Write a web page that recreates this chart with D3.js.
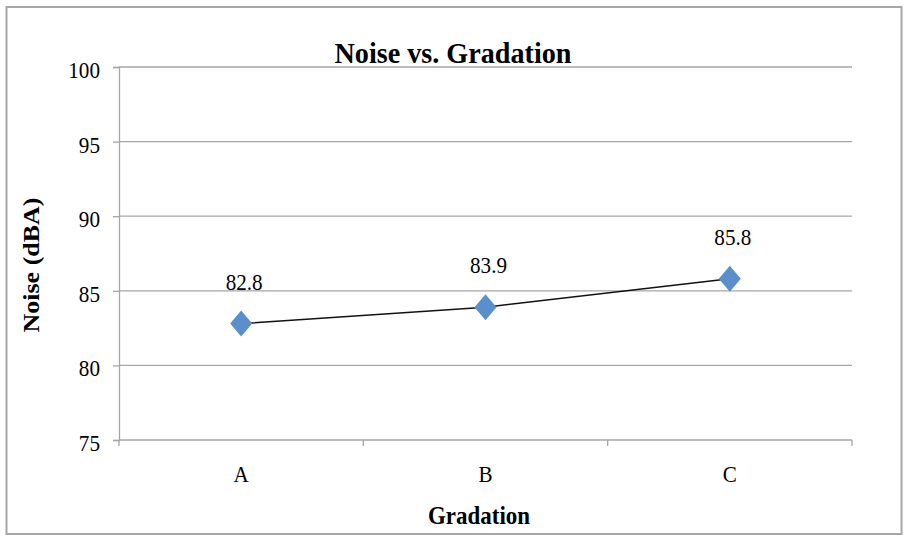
<!DOCTYPE html>
<html>
<head>
<meta charset="utf-8">
<script src="https://cdn.jsdelivr.net/npm/d3@7"></script>
<style>
  html, body { margin: 0; padding: 0; background: #fff; }
</style>
</head>
<body>
<svg id="chart" width="904" height="540"></svg>
<script>
// Chart data
const categories = ["A", "B", "C"];
const noise = [82.8, 83.9, 85.8];
const yTicks = [75, 80, 85, 90, 95, 100];

const FONT = "Liberation Serif";
const svg = d3.select("#chart").style("font-family", FONT);
const W = 904, H = 540;
const margin = { left: 119, right: 52, top: 67, bottom: 100 };
const plotW = W - margin.left - margin.right;
const plotH = H - margin.top - margin.bottom;

// Text is set slightly condensed, like a narrow Times face
const SX = 0.9;
function label(parent, px, py, str, size, opts = {}) {
  const sx = opts.sx || SX;
  const rot = opts.rotate ? ` rotate(${opts.rotate})` : "";
  return parent.append("text")
    .attr("transform", `translate(${px},${py}) scale(${sx},1)${rot}`)
    .attr("text-anchor", opts.anchor || "middle")
    .style("font-family", FONT)
    .style("font-size", size + "px")
    .style("font-weight", opts.bold ? "bold" : "normal")
    .attr("fill", "#000")
    .text(str);
}

// Outer frame
svg.append("rect")
  .attr("x", 6.5).attr("y", 7).attr("width", 895).attr("height", 527)
  .attr("fill", "#fff").attr("stroke", "#a6a6a6").attr("stroke-width", 2);

const g = svg.append("g").attr("transform", `translate(${margin.left},${margin.top})`);

const x = d3.scaleBand().domain(categories).range([0, plotW]).padding(0);
const y = d3.scaleLinear().domain([75, 100]).range([plotH, 0]);

const gridColor = "#a6a6a6";

// Horizontal gridlines
g.append("g")
  .selectAll("line")
  .data(yTicks.filter(t => t > 75))
  .join("line")
  .attr("x1", 0).attr("x2", plotW)
  .attr("y1", d => y(d)).attr("y2", d => y(d))
  .attr("stroke", gridColor).attr("stroke-width", 1.3);

// Y axis: line and ticks from d3.axisLeft, labels set separately
const yAxis = g.append("g")
  .call(d3.axisLeft(y).tickValues(yTicks).tickSize(6).tickFormat(""));
yAxis.select(".domain").attr("stroke", gridColor).attr("stroke-width", 1.3);
yAxis.selectAll(".tick line").attr("stroke", gridColor).attr("stroke-width", 1.3);
yTicks.forEach(t => label(g, -19, y(t) + 11, d3.format("d")(t), 23.5, { anchor: "end" }));

// X axis with boundary ticks between categories
const xAxisG = g.append("g").attr("transform", `translate(0,${plotH})`);
xAxisG.append("line")
  .attr("x1", 0).attr("x2", plotW).attr("y1", 0).attr("y2", 0)
  .attr("stroke", gridColor).attr("stroke-width", 1.3);
const boundaries = categories.map(c => x(c)).concat([plotW]);
xAxisG.selectAll("line.bt")
  .data(boundaries)
  .join("line").attr("class", "bt")
  .attr("x1", d => d).attr("x2", d => d).attr("y1", 0).attr("y2", 6)
  .attr("stroke", gridColor).attr("stroke-width", 1.3);
categories.forEach(c => label(xAxisG, x(c) + x.bandwidth() / 2, 42, c, 24, { sx: 0.88 }));

// Series line
const pts = categories.map((c, i) => ({ c, v: noise[i] }));
const cx = d => x(d.c) + x.bandwidth() / 2;
const line = d3.line().x(cx).y(d => y(d.v));
g.append("path")
  .datum(pts)
  .attr("d", line)
  .attr("fill", "none")
  .attr("stroke", "#111")
  .attr("stroke-width", 1.5);

// Diamond markers
const hw = 11, hh = 13;
g.selectAll("path.marker")
  .data(pts)
  .join("path").attr("class", "marker")
  .attr("transform", d => `translate(${cx(d)},${y(d.v)})`)
  .attr("d", `M0,${-hh}L${hw},0L0,${hh}L${-hw},0Z`)
  .attr("fill", "#5a8fcb");

// Data labels
pts.forEach(d => label(g, cx(d) + 3, y(d.v) - 34, d.v.toFixed(1), 23, { sx: 0.92 }));

// Title
svg.append("text")
  .attr("x", 453).attr("y", 63)
  .attr("text-anchor", "middle")
  .style("font-family", FONT).style("font-size", "30px").style("font-weight", "bold")
  .attr("textLength", 237).attr("lengthAdjust", "spacingAndGlyphs")
  .text("Noise vs. Gradation");

// Axis titles
svg.append("text")
  .attr("x", 479).attr("y", 524)
  .attr("text-anchor", "middle")
  .style("font-family", FONT).style("font-size", "25.5px").style("font-weight", "bold")
  .attr("textLength", 102).attr("lengthAdjust", "spacingAndGlyphs")
  .text("Gradation");

label(svg, 39, 265, "Noise (dBA)", 26, { bold: true, rotate: -90 });
</script>
</body>
</html>
